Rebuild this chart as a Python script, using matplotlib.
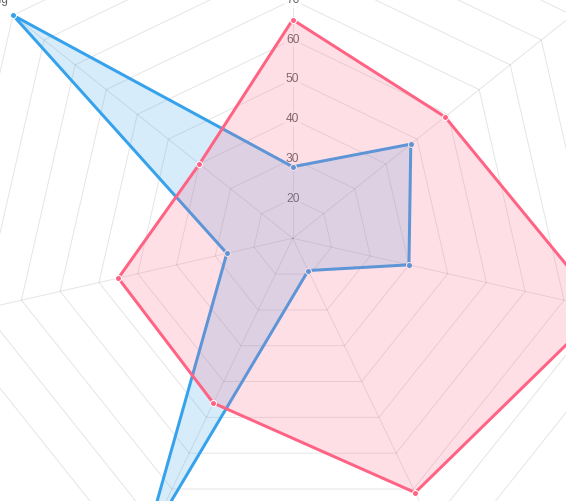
import numpy as np
import matplotlib
matplotlib.use("Agg")
import matplotlib.pyplot as plt

# datos (muestra de radar)
labels = ['Eating', 'Drinking', 'Sleeping', 'Designing', 'Coding', 'Cycling', 'Running']
first_data = [65, 59, 90, 81, 56, 55, 40]
second_data = [28, 48, 40, 19, 96, 27, 100]
tick_values = [20, 30, 40, 50, 60, 70, 80, 90, 100]
scale_min = 10

RED = (255/255, 99/255, 132/255)
BLUE = (54/255, 162/255, 235/255)
GRID = (0, 0, 0, 0.1)
PX = 0.72  # puntos por pixel a dpi 100

n = len(labels)
ang = np.pi / 2 - np.arange(n) * 2 * np.pi / n


def to_xy(values):
    r = np.asarray(values, dtype=float) - scale_min
    return r * np.cos(ang), r * np.sin(ang)


fig = plt.figure(figsize=(5.66, 5.01), dpi=100)
ax = fig.add_axes([0, 0, 1, 1])
ax.set_axis_off()

# escala: 3.975 px por unidad, centro en (292.7, 238.3) px
ppu = 3.975
cx, cy = 292.7, 238.3
ax.set_xlim(-cx / ppu, (566 - cx) / ppu)
ax.set_ylim(-(501 - cy) / ppu, cy / ppu)
ax.set_aspect('equal')

# rejilla heptagonal
for t in tick_values:
    gx, gy = to_xy([t] * n)
    ax.plot(np.append(gx, gx[0]), np.append(gy, gy[0]), color=GRID, lw=1 * PX, zorder=1)
ox, oy = to_xy([tick_values[-1]] * n)
for i in range(n):
    ax.plot([0, ox[i]], [0, oy[i]], color=GRID, lw=1 * PX, zorder=1)

# etiquetas de las marcas
for t in tick_values:
    ax.text(0, t - scale_min, str(t), ha='center', va='center', fontsize=12 * PX,
            family=['Liberation Sans', 'DejaVu Sans'], color='#666666', zorder=2,
            bbox=dict(boxstyle='square,pad=0.15', fc=(1, 1, 1, 0.75), ec='none'))

# etiquetas de los ejes
for i, lab in enumerate(labels):
    dx = np.cos(ang[i])
    ha = 'center' if abs(dx) < 0.05 else ('left' if dx > 0 else 'right')
    ax.annotate(lab, (ox[i], oy[i]), xytext=(5 * np.sign(dx) if abs(dx) > 0.05 else 0, 12),
                textcoords='offset pixels', ha=ha, va='baseline', fontsize=12 * PX,
                family=['Liberation Sans', 'DejaVu Sans'], color='#666666', zorder=2)

# segundo conjunto (azul) debajo
bx, by = to_xy(second_data)
ax.fill(bx, by, color=BLUE, alpha=0.2, lw=0, zorder=3)
ax.plot(np.append(bx, bx[0]), np.append(by, by[0]), color=BLUE, lw=3 * PX,
        solid_joinstyle='miter', zorder=4)
ax.plot(bx, by, 'o', ms=6 * PX, mfc=BLUE, mec='white', mew=1 * PX, zorder=5)

# primer conjunto (rojo) encima
rx, ry = to_xy(first_data)
ax.fill(rx, ry, color=RED, alpha=0.2, lw=0, zorder=6)
ax.plot(np.append(rx, rx[0]), np.append(ry, ry[0]), color=RED, lw=3 * PX,
        solid_joinstyle='miter', zorder=7)
ax.plot(rx, ry, 'o', ms=6 * PX, mfc=RED, mec='white', mew=1 * PX, zorder=8)

fig.savefig('out.png', dpi=100)
